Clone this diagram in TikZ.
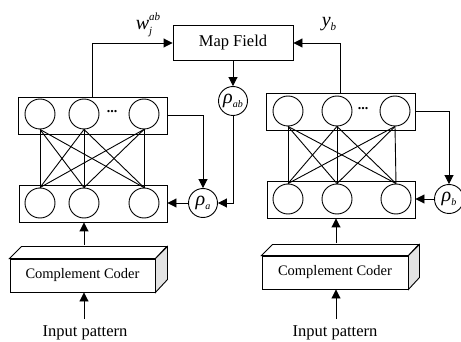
\documentclass[tikz,border=0pt]{standalone}
\usepackage{fontspec}
\setmainfont{Liberation Serif}
\usetikzlibrary{arrows.meta,calc}
\newcommand{\rhosub}[1]{\textit{ρ}\raisebox{-3.5pt}{\fontsize{10}{10}\selectfont\itshape #1}}
\begin{document}
\begin{tikzpicture}[x=1pt,y=-1pt, line width=0.9pt,
  layerbox/.style={draw, minimum width=149pt, minimum height=37pt, inner sep=0pt},
  neuron/.style={draw, circle, minimum size=30pt, inner sep=0pt},
  vig/.style={draw, circle, fill=white, minimum size=29pt, inner sep=0pt, font=\fontsize{20}{20}\selectfont},
  arr/.style={-{Triangle[length=9pt,width=9pt]}},
  lbl/.style={font=\fontsize{16.5}{18}\selectfont},
  coderbox/.style={draw, fill=white, minimum height=33pt, inner sep=0pt, font=\fontsize{14.5}{16}\selectfont},
  dotsl/.style={font=\fontsize{14}{14}\selectfont\bfseries, inner sep=0pt},
  ]
\useasboundingbox (0,0) rectangle (461,342);

% Map field
\node[draw, minimum width=120pt, minimum height=35pt, inner sep=0pt, lbl] (mf) at (233,43) {Map Field};
\node[vig] (rab) at (233,101) {\rhosub{ab}};

% left network
\node[layerbox] (lt) at (92.5,115.5) {};
\node[layerbox, minimum width=148pt] (lb) at (93,203.5) {};
\node[neuron] (lt1) at (40,114) {};
\node[neuron] (lt2) at (84,114) {};
\node[neuron] (lt3) at (144,114) {};
\node[dotsl] (ldots) at (112,112) {...};
\node[neuron] (lb1) at (40,203) {};
\node[neuron] (lb2) at (84,203) {};
\node[neuron] (lb3) at (144,203) {};
\foreach \i in {1,2,3}{\foreach \j in {1,2,3}{\draw (lt\i.south) -- (lb\j.north);}}
\node[vig] (ra) at (203,203) {\rhosub{a}};

% right network
\node[layerbox] (rt) at (340.5,111.5) {};
\node[layerbox, minimum width=148pt] (rb) at (341,199.5) {};
\node[neuron] (rt1) at (288,111) {};
\node[neuron] (rt2) at (337,111) {};
\node[neuron] (rt3) at (395,111) {};
\node[dotsl] (rdots) at (363,109) {...};
\node[neuron] (rb1) at (288,199) {};
\node[neuron] (rb2) at (337,199) {};
\node[neuron] (rb3) at (396,199) {};
\foreach \i in {1,2,3}{\foreach \j in {1,2,3}{\draw (rt\i.south) -- (rb\j.north);}}
\node[vig] (rbv) at (449,199) {\rhosub{b}};

% labels
\node[inner sep=0pt] (wl) at (148,25) {\fontsize{20}{20}\selectfont\textit{w}\raisebox{-5pt}{\makebox[0pt][l]{\fontsize{11}{11}\selectfont\itshape j}}\raisebox{9pt}{\fontsize{11}{11}\selectfont\itshape ab}};
\node[inner sep=0pt] (yl) at (329,24) {\fontsize{20}{20}\selectfont\textit{y}\raisebox{-4pt}{\fontsize{11}{11}\selectfont\itshape b}};

% connectors
\draw[arr] (lt.north) |- (mf.west);
\draw[arr] (rt.north) |- (mf.east);
\draw[arr] (mf.south) -- (rab.north);
\draw[arr] (rab.south) |- (ra.east);
\draw[arr] (lt.east) -| (ra.north);
\draw[arr] (ra.west) -- (ra.west -| lb.east);
\draw[arr] (rt.east) -| (rbv.north);
\draw[arr] (rbv.west) -- (rbv.west -| rb.east);

% left coder
\node[coderbox, minimum width=145pt] (cl) at (82.5,275.5) {Complement Coder};
\draw[fill=white] (cl.north west) -- ++(12,-12) -- ++(145,0) -- (cl.north east) -- cycle;
\draw[fill=gray!22] (cl.north east) -- ++(12,-12) -- ++(0,33) -- (cl.south east) -- cycle;
\coordinate (clt) at (84,245);
\draw[arr] (clt) -- (clt |- lb.south);
\node[lbl] (inl) at (85,333) {Input pattern};
\draw[arr] ([yshift=3pt]inl.north -| clt) -- (clt |- cl.south);

% right coder
\node[coderbox, minimum width=146pt] (cr) at (335,272.5) {Complement Coder};
\draw[fill=white] (cr.north west) -- ++(11,-11) -- ++(146,0) -- (cr.north east) -- cycle;
\draw[fill=gray!22] (cr.north east) -- ++(11,-11) -- ++(0,33) -- (cr.south east) -- cycle;
\coordinate (crt) at (336,243);
\draw[arr] (crt) -- (crt |- rb.south);
\node[lbl] (inr) at (335,333) {Input pattern};
\draw[arr] ([yshift=3pt]inr.north -| crt) -- (crt |- cr.south);
\end{tikzpicture}
\end{document}
